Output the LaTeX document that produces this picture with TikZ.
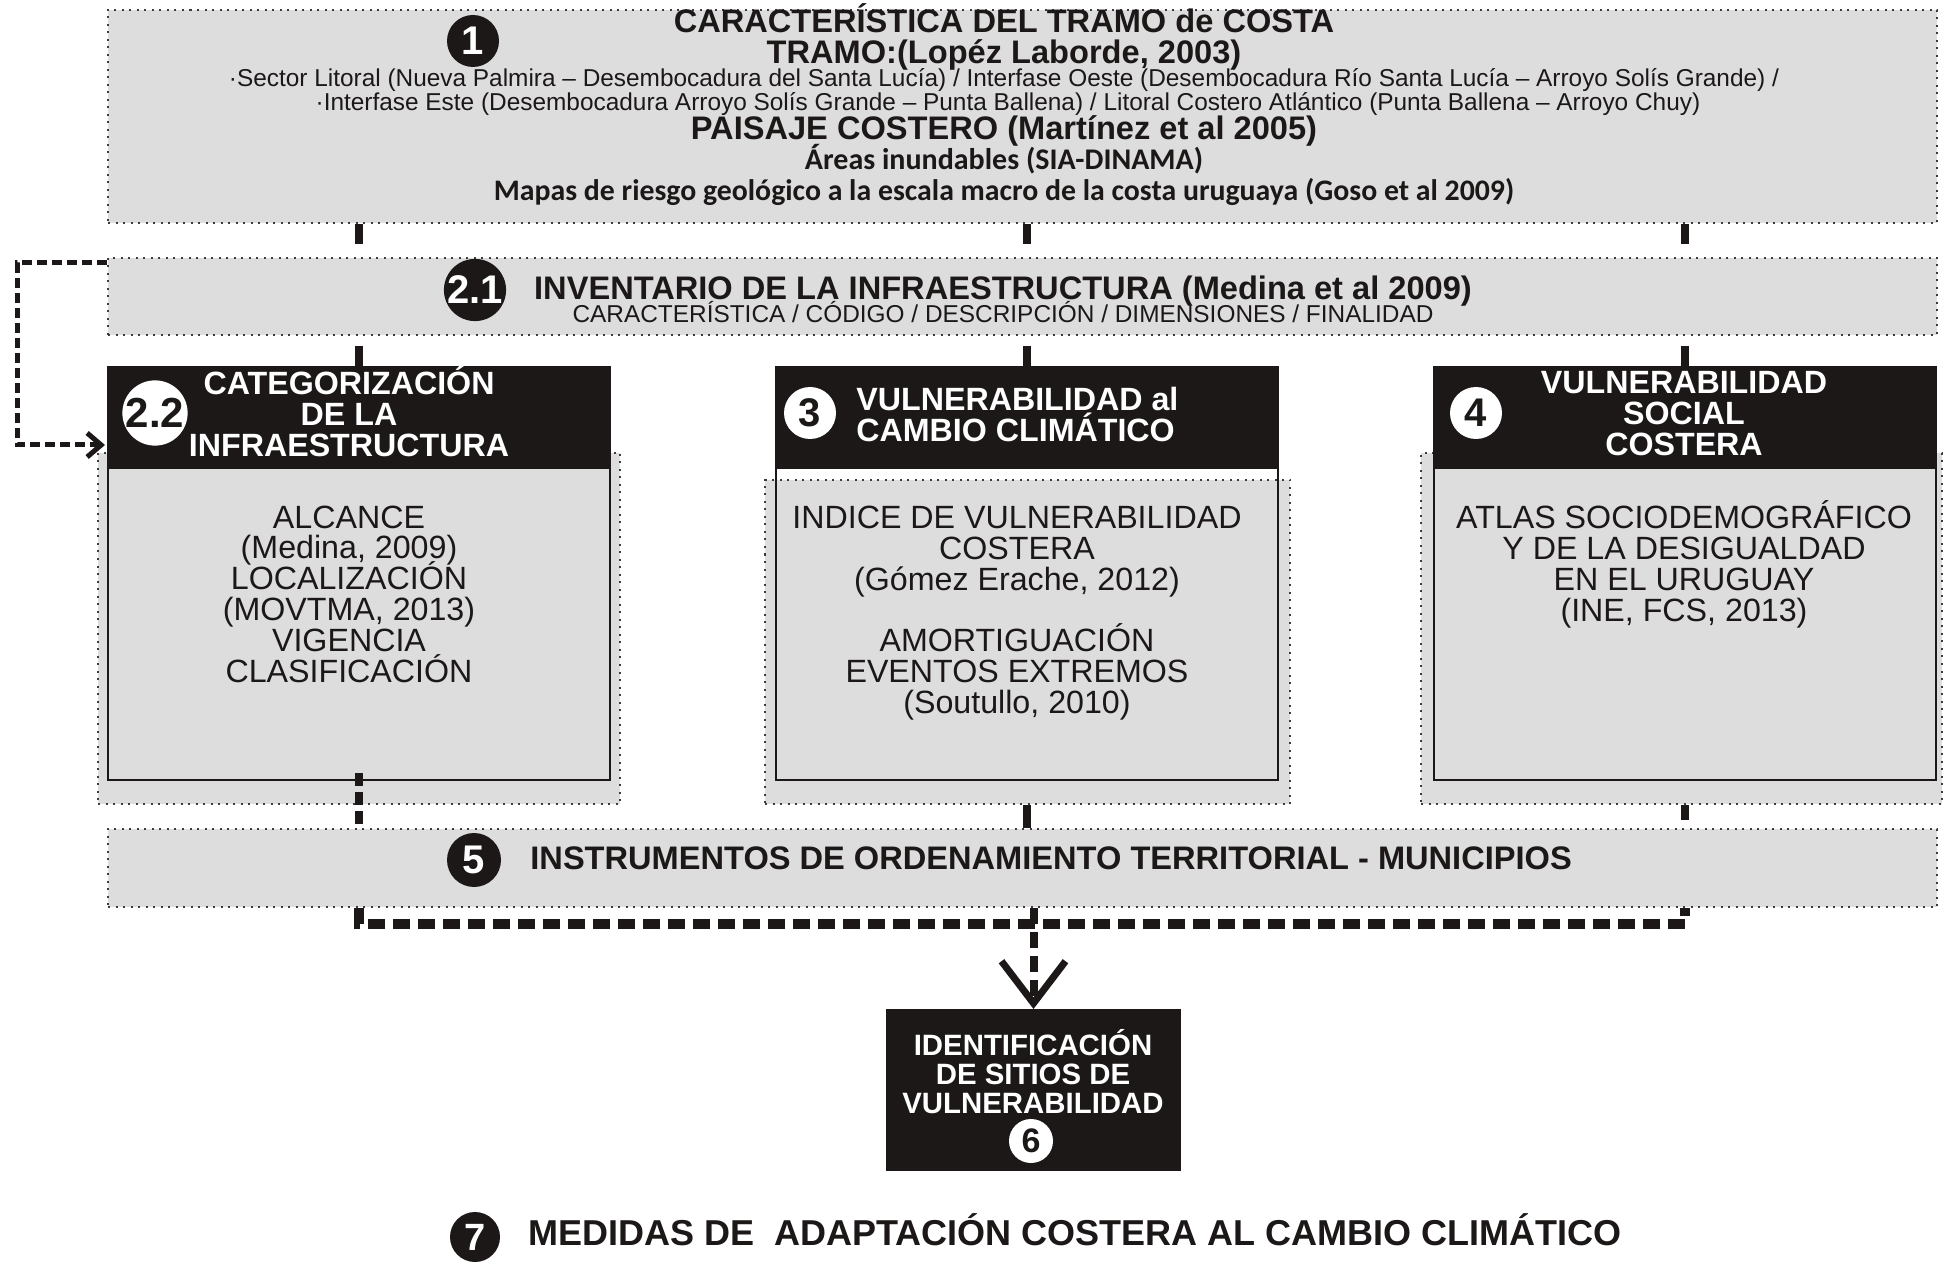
\documentclass[tikz,border=0pt]{standalone}
\usepackage{fontspec}
\setmainfont{Liberation Sans}
\newfontfamily\calib{Carlito}
\usetikzlibrary{arrows.meta,calc}
\definecolor{boxgray}{RGB}{221,221,221}
\definecolor{hdrblack}{RGB}{28,24,24}
\definecolor{dotcol}{RGB}{60,60,60}
\newcommand\mybodyfont{\fontsize{16.1}{15.4}\selectfont\lineskiplimit -20pt\relax}
\begin{document}
\begin{tikzpicture}[x=0.5pt,y=-0.5pt,
  dotbox/.style={draw=dotcol, fill=boxgray, line width=1pt, dash pattern=on 1pt off 2.75pt, inner sep=0},
  bodybox/.style={draw=hdrblack, line width=1.25pt, inner sep=0, minimum width=251pt, minimum height=156pt},
  hdrbox/.style={draw=hdrblack, fill=hdrblack, line width=1pt, inner sep=0, minimum width=251pt, minimum height=50.5pt},
  blackdot/.style={circle, fill=hdrblack, text=white, inner sep=0, font=\bfseries\fontsize{20}{20}\selectfont},
  whitedot/.style={circle, fill=white, text=hdrblack, inner sep=0, font=\bfseries\fontsize{20}{20}\selectfont},
  txt/.style={inner sep=0, text=hdrblack},
  hdrtxt/.style={inner sep=0, text=white, align=center, font=\bfseries\fontsize{16.1}{15.5}\selectfont},
  bodytxt/.style={inner sep=0, text=hdrblack, align=center, font=\mybodyfont},
  topconn/.style={draw=hdrblack, line width=4pt},
  lowdash/.style={draw=hdrblack, line width=4pt, dash pattern=on 6.5pt off 3pt},
  hbar/.style={draw=hdrblack, line width=5pt, dash pattern=on 8.5pt off 4pt},
  vbar/.style={draw=hdrblack, line width=4pt, dash pattern=on 8pt off 4pt},
  loopline/.style={draw=hdrblack, line width=2.5pt, dash pattern=on 5pt off 2.5pt}
]
\useasboundingbox (0,0) rectangle (1945,1262);
% boxes
\node[dotbox, minimum width=914.5pt, minimum height=106.5pt] (b1) at (1022.5,116.5) {};
\node[dotbox, minimum width=914.5pt, minimum height=38.5pt] (b21) at (1022.5,296.5) {};
\node[dotbox, minimum width=261pt, minimum height=175.5pt] (bg22) at (359,628.5) {};
\node[dotbox, minimum width=262.5pt, minimum height=162pt] (bg3) at (1027.5,642) {};
\node[dotbox, minimum width=260.5pt, minimum height=175.5pt] (bg4) at (1681.5,628.5) {};
\node[bodybox] (bd22) at (359,624) {};
\node[bodybox] (bd3) at (1027,624) {};
\node[bodybox] (bd4) at (1685,624) {};
\node[hdrbox] (h22) at (359,417.5) {};
\node[hdrbox] (h3) at (1027,417.5) {};
\node[hdrbox] (h4) at (1685,417.5) {};
\node[dotbox, minimum width=914.5pt, minimum height=39pt] (b5) at (1022.5,868) {};
\node[hdrbox, minimum width=146.5pt, minimum height=80pt] (b6) at (1033.5,1090) {};

% box 1 texts
\node[txt, anchor=base, font=\bfseries\fontsize{16.3}{16.3}\selectfont] (t1a) at (1004,33) {CARACTERÍSTICA DEL TRAMO de COSTA};
\node[txt, anchor=base, font=\bfseries\fontsize{16.3}{16.3}\selectfont] (t1b) at (1004,64) {TRAMO:(Lopéz Laborde, 2003)};
\node[txt, anchor=base, font=\fontsize{12.2}{12.2}\selectfont] (t1c) at (1004,87) {·Sector Litoral (Nueva Palmira – Desembocadura del Santa Lucía) / Interfase Oeste (Desembocadura Río Santa Lucía – Arroyo Solís Grande) /};
\node[txt, anchor=base, font=\fontsize{12.2}{12.2}\selectfont] (t1d) at (1008,111) {·Interfase Este (Desembocadura Arroyo Solís Grande – Punta Ballena) / Litoral Costero Atlántico (Punta Ballena – Arroyo Chuy)};
\node[txt, anchor=base, font=\bfseries\fontsize{16.3}{16.3}\selectfont] (t1e) at (1004,140) {PAISAJE COSTERO (Martínez et al 2005)};
\node[txt, anchor=base, font=\calib\bfseries\fontsize{15}{15}\selectfont] (t1f) at (1004,170) {Áreas inundables (SIA-DINAMA)};
\node[txt, anchor=base, font=\calib\bfseries\fontsize{14.9}{14.9}\selectfont] (t1g) at (1004,201) {Mapas de riesgo geológico a la escala macro de la costa uruguaya (Goso et al 2009)};
\node[blackdot, minimum size=26pt] (c1) at (473,41) {1};

% box 2.1 texts
\node[txt, anchor=base, font=\bfseries\fontsize{16.3}{16.3}\selectfont] (t21a) at (1003,299.5) {INVENTARIO DE LA INFRAESTRUCTURA (Medina et al 2009)};
\node[txt, anchor=base, font=\fontsize{12.2}{12.2}\selectfont] (t21b) at (1003,322.5) {CARACTERÍSTICA / CÓDIGO / DESCRIPCIÓN / DIMENSIONES / FINALIDAD};
\node[blackdot, minimum size=27pt] (c21) at (475,290) {2.1};

% headers
\node[hdrtxt] (th22) at (349,411) {CATEGORIZACIÓN\\DE LA\\INFRAESTRUCTURA};
\node[hdrtxt, align=left, anchor=west] (th3) at (856,414.5) {VULNERABILIDAD al\\CAMBIO CLIMÁTICO};
\node[hdrtxt] (th4) at (1684,413.5) {VULNERABILIDAD\\SOCIAL\\COSTERA};
\node[whitedot, minimum size=26pt, font=\bfseries\fontsize{21}{21}\selectfont] (c22) at (155,413) {2.2};
\node[whitedot, minimum size=26pt] (c3) at (810,413) {3};
\node[whitedot, minimum size=26pt] (c4) at (1476,413) {4};

% bodies
\node[bodytxt] (tb22) at (349,594) {ALCANCE\\(Medina, 2009)\\LOCALIZACIÓN\\(MOVTMA, 2013)\\VIGENCIA\\CLASIFICACIÓN};
\node[bodytxt] (tb3) at (1017,613) {INDICE DE VULNERABILIDAD\\COSTERA\\(Gómez Erache, 2012)\\\mbox{}\\AMORTIGUACIÓN\\EVENTOS EXTREMOS\\(Soutullo, 2010)};
\node[bodytxt] (tb4) at (1684,564.5) {ATLAS SOCIODEMOGRÁFICO\\Y DE LA DESIGUALDAD\\EN EL URUGUAY\\(INE, FCS, 2013)};

% box 5
\node[txt, anchor=base west, font=\bfseries\fontsize{16.3}{16.3}\selectfont] (t5) at (530,869.5) {INSTRUMENTOS DE ORDENAMIENTO TERRITORIAL - MUNICIPIOS};
\node[blackdot, minimum size=27pt] (c5) at (474,860) {5};

% box 6
\node[hdrtxt, font=\bfseries\fontsize{14.7}{14.5}\selectfont] (t6) at (1033,1072) {IDENTIFICACIÓN\\DE SITIOS DE\\VULNERABILIDAD};
\node[whitedot, minimum size=22pt, font=\bfseries\fontsize{17}{17}\selectfont] (c6) at (1031,1141) {6};

% 7
\node[txt, anchor=base west, font=\bfseries\fontsize{18}{18}\selectfont] (t7) at (528,1245) {MEDIDAS DE\ \ ADAPTACIÓN COSTERA AL CAMBIO CLIMÁTICO};
\node[blackdot, minimum size=25pt, font=\bfseries\fontsize{19}{19}\selectfont] (c7) at (475,1237) {7};

% connectors top
\foreach \h in {h22,h3,h4}{
  \draw[topconn] (b1.south -| \h.north) -- ($(b1.south -| \h.north)+(0,20)$);
  \draw[topconn] ($(b21.south -| \h.north)+(0,10)$) -- (\h.north);
}
% loop arrow
\coordinate (la) at ($(b21.north west)+(0,6)$);
\coordinate (lb) at ($(h22.south west)+(-2,-24)$);
\coordinate (lx) at (17,0);
\draw[loopline, -{Straight Barb[length=7pt,width=12pt,line width=2.5pt]}] (la) -- (la -| lx) |- (lb);

% connectors to box 5
\draw[lowdash] ($(bd22.south)+(0,-8)$) -- (b5.north -| bd22.south);
\draw[topconn] (bg3.south -| bd3.south) -- (b5.north -| bd3.south);
\draw[topconn] (bg4.south -| bd4.south) -- ($(b5.north -| bd4.south)+(0,-8)$);

% bottom bar
\coordinate (hl) at ($(b5.south -| h22.south)+(0,16)$);
\draw[hbar] (b5.south -| h22.south) -- (hl) -- (hl -| h4.south) -- (b5.south -| h4.south);
\draw[vbar, -{Straight Barb[length=21pt,width=32pt,line width=3.5pt]}] (b5.south -| b6.north) -- (b6.north);
\end{tikzpicture}
\end{document}
